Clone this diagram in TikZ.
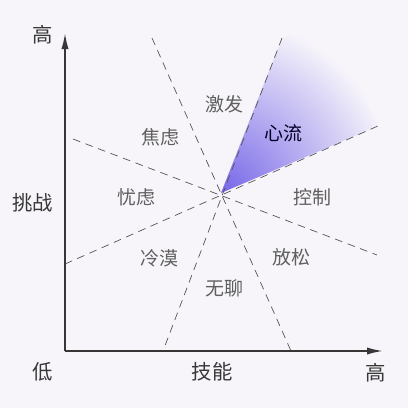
\documentclass[tikz,border=0pt]{standalone}
\usepackage{fontspec}
\setmainfont{Noto Sans CJK SC}
\usetikzlibrary{arrows.meta}
\definecolor{bgcol}{RGB}{247,245,250}
\definecolor{flowcol}{RGB}{118,102,232}
\definecolor{zonegrey}{RGB}{95,95,95}
\definecolor{axisgrey}{RGB}{55,55,55}

\begin{document}
\begin{tikzpicture}[
    x=0.025cm, y=-0.025cm,
    axis/.style={draw=axisgrey, line width=1.2pt,
                 -{Latex[length=0.4cm, width=0.18cm]}},
    divider/.style={draw=axisgrey!85, line width=0.5pt,
                    dash pattern=on 5.5pt off 4pt},
    zone/.style={text=zonegrey, font=\fontsize{13.5pt}{15pt}\selectfont,
                 inner sep=0pt},
    axlabel/.style={text=axisgrey, font=\fontsize{14.5pt}{16pt}\selectfont,
                    inner sep=0pt},
  ]
  % background and bounding box
  \fill[bgcol] (0,0) rectangle (408,408);
  \useasboundingbox (0,0) rectangle (408,408);

  % corner points
  \coordinate (origin) at (65,351);
  \coordinate (ytip) at (65,33);
  \coordinate (xtip) at (383,351);
  \coordinate (mid) at (221,193);

  % ends of the dividing lines
  \coordinate (a1) at (152,38);  \coordinate (a2) at (291,351);
  \coordinate (b1) at (282,38);  \coordinate (b2) at (163,351);
  \coordinate (c1) at (73,139);  \coordinate (c2) at (377,255);
  \coordinate (d1) at (65,264);  \coordinate (d2) at (378,126);

  % flow wedge (shaded from the centre)
  \begin{scope}
    \clip (mid) -- (b1) -- (330,20) -- (d2) -- cycle;
    \shade[inner color=flowcol, outer color=bgcol] (mid) circle (175);
  \end{scope}

  % dividing lines
  \draw[divider] (a1) -- (a2);
  \draw[divider] (b1) -- (b2);
  \draw[divider] (c1) -- (c2);
  \draw[divider] (d1) -- (d2);

  % axes
  \draw[axis] (origin) -- (ytip);
  \draw[axis] (origin) -- (xtip);

  % axis labels
  \node[axlabel] (yhigh) at (43,35) {高};
  \node[axlabel] (xhigh) at (376,373) {高};
  \node[axlabel] (low) at (43,372) {低};
  \node[axlabel] (skill) at (212,372) {技能};
  \node[axlabel] (challenge) at (33,203) {挑战};

  % zones
  \node[zone] (arousal) at (224,104) {激发};
  \node[zone, text=black!85!blue] (flow) at (283,133) {心流};
  \node[zone] (anxiety) at (160,137) {焦虑};
  \node[zone] (worry) at (136,197) {忧虑};
  \node[zone] (control) at (312,197) {控制};
  \node[zone] (apathy) at (159,258) {冷漠};
  \node[zone] (relax) at (291,257) {放松};
  \node[zone] (boredom) at (224,288) {无聊};

\end{tikzpicture}
\end{document}
